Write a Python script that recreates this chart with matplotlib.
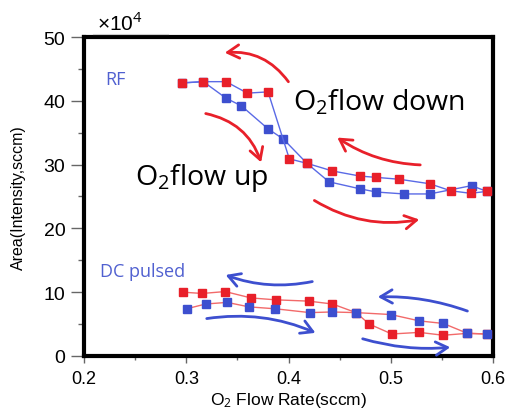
import matplotlib
matplotlib.use('Agg')
import matplotlib.pyplot as plt
from matplotlib.patches import FancyArrowPatch
from matplotlib.lines import Line2D
from matplotlib.ticker import MultipleLocator

plt.rcParams['mathtext.fontset'] = 'custom'
plt.rcParams['mathtext.rm'] = 'Open Sans'
plt.rcParams['mathtext.it'] = 'Open Sans'

# RF series (x = O2 flow, y = area / 1e4)
rf_up_x = [0.2955, 0.3167, 0.339, 0.354, 0.380, 0.395, 0.418, 0.4396, 0.470, 0.486, 0.513, 0.538, 0.579, 0.594]
rf_up_y = [42.8, 43.0, 40.4, 39.2, 35.6, 34.0, 30.2, 27.3, 26.2, 25.7, 25.4, 25.4, 26.7, 25.8]
rf_down_x = [0.2955, 0.3167, 0.339, 0.3597, 0.380, 0.4008, 0.418, 0.443, 0.470, 0.4856, 0.5085, 0.538, 0.5586, 0.578, 0.594]
rf_down_y = [42.8, 43.0, 43.0, 41.2, 41.4, 30.9, 30.2, 29.0, 28.2, 28.0, 27.7, 27.0, 25.9, 25.5, 25.8]

# DC pulsed series
dc_down_x = [0.297, 0.3157, 0.338, 0.3633, 0.3878, 0.4197, 0.443, 0.466, 0.479, 0.501, 0.528, 0.5514, 0.575, 0.594]
dc_down_y = [10.0, 9.8, 10.1, 9.1, 8.8, 8.6, 8.15, 6.8, 5.0, 3.45, 3.7, 3.25, 3.55, 3.45]
dc_up_x = [0.3004, 0.319, 0.340, 0.3613, 0.387, 0.421, 0.4423, 0.466, 0.500, 0.528, 0.5514, 0.575, 0.594]
dc_up_y = [7.4, 8.15, 8.4, 7.7, 7.4, 6.8, 6.9, 6.8, 6.5, 5.5, 5.1, 3.55, 3.45]

red = '#e8202a'
blue = '#3d4fcf'

fig = plt.figure(figsize=(5.07, 4.14), dpi=100)
ax = fig.add_axes([0.1657, 0.1377, 0.8067, 0.7705])

# RF: blue lines, up first then down on top
ax.plot(rf_up_x, rf_up_y, '-s', color='#5a6ae6', lw=1, ms=5.5, mfc=blue, mec=blue, zorder=3)
ax.plot(rf_down_x, rf_down_y, '-s', color='#5a6ae6', lw=1, ms=5.5, mfc=red, mec=red, zorder=4)
# DC: red lines
ax.plot(dc_down_x, dc_down_y, '-s', color='#f26a6a', lw=1, ms=5.5, mfc=red, mec=red, zorder=3)
ax.plot(dc_up_x, dc_up_y, '-s', color='#f26a6a', lw=1, ms=5.5, mfc=blue, mec=blue, zorder=4)

ax.set_xlim(0.2, 0.6)
ax.set_ylim(0, 50)
ax.xaxis.set_minor_locator(MultipleLocator(0.05))
ax.yaxis.set_major_locator(MultipleLocator(10))
ax.yaxis.set_minor_locator(MultipleLocator(5))
ax.set_xticks([0.2, 0.3, 0.4, 0.5, 0.6])
ax.set_xticklabels(['0.2', '0.3', '0.4', '0.5', '0.6'])
for s in ax.spines.values():
    s.set_linewidth(3)
ax.tick_params(axis='y', which='major', direction='out', length=9.5, width=1, color='#666',
               labelsize=14, pad=4)
ax.tick_params(axis='y', which='minor', direction='out', length=4.5, width=1, color='#666')
ax.tick_params(axis='x', which='major', direction='out', length=5, width=1, color='#666',
               labelsize=13, pad=5)
ax.tick_params(axis='x', which='minor', direction='out', length=3, width=1, color='#666')
for lab in ax.get_xticklabels() + ax.get_yticklabels():
    lab.set_family('Liberation Sans')

ax.set_xlabel('O$_2$ Flow Rate(sccm)', fontsize=12.5, family='Liberation Sans', labelpad=2)
ax.set_ylabel('Area(Intensity,sccm)', fontsize=11.5, family='Liberation Sans')
ax.yaxis.set_label_coords(-58 / 409, 0.5)

# multiplier
fig.text(0.191, 0.925, '×10$^4$', fontsize=15, family='Liberation Sans')
fig.add_artist(Line2D([93/507, 168/507], [1-35/414, 1-35/414], color='#cccccc', lw=0.8))

# annotations
ax.text(0.2205, 42.6, 'RF', color='#5060d0', fontsize=13, family='Open Sans')
ax.text(0.2156, 12.5, 'DC pulsed', color='#5060d0', fontsize=13, family='Open Sans')
ax.text(0.4044, 38.6, 'O$_2$flow down', fontsize=20.5, family='Open Sans', zorder=6)
ax.text(0.2499, 27.0, 'O$_2$flow up', fontsize=20.5, family='Open Sans', zorder=6)


def px(x, y):
    return (0.2 + (x - 84) / 1022.5, (357 - y) / 6.38)


arrows = [
    ((290, 85), (222, 54), 0.3, red),
    ((203, 114), (262, 166), -0.3, red),
    ((423, 166), (335, 137), -0.15, red),
    ((312, 200), (422, 220), 0.2, red),
    ((315, 282), (223, 275), -0.15, blue),
    ((204, 320), (318, 335), -0.15, blue),
    ((470, 313), (375, 298), 0.1, blue),
    ((360, 339), (453, 348), 0.1, blue),
]
for a, b, rad, c in arrows:
    ax.add_patch(FancyArrowPatch(px(*a), px(*b), connectionstyle='arc3,rad=%g' % rad,
                                 arrowstyle='->,head_length=0.7,head_width=0.4',
                                 color=c, lw=2, mutation_scale=12, zorder=5, clip_on=False))

fig.savefig('out.png', dpi=100)
